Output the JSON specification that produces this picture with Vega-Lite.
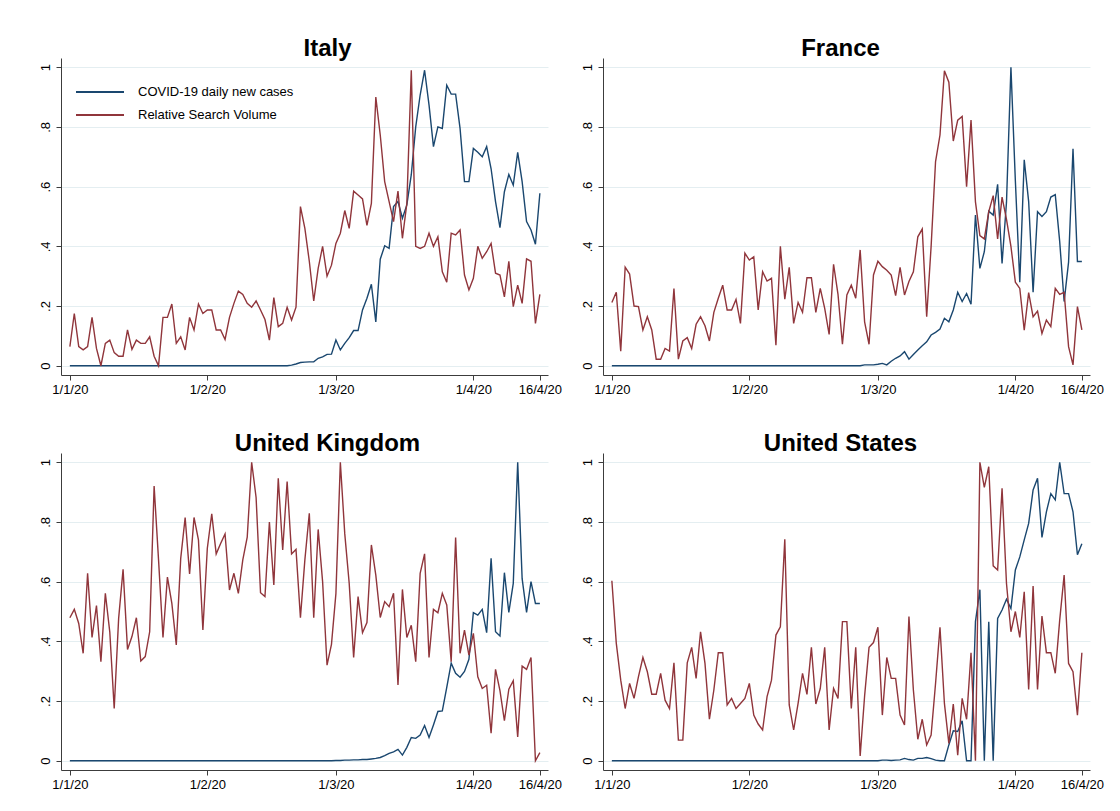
{
"$schema": "https://vega.github.io/schema/vega-lite/v6.json",
"background": "white",
"padding": {"left": 39, "top": 37, "right": 5, "bottom": 5},
"datasets": {
"Italy": [
{"date":"2020-01-01","cases":0,"rsv":0.064},{"date":"2020-01-02","cases":0,"rsv":0.175},{"date":"2020-01-03","cases":0,"rsv":0.064},{"date":"2020-01-04","cases":0,"rsv":0.053},{"date":"2020-01-05","cases":0,"rsv":0.064},{"date":"2020-01-06","cases":0,"rsv":0.162},{"date":"2020-01-07","cases":0,"rsv":0.058},{"date":"2020-01-08","cases":0,"rsv":0},{"date":"2020-01-09","cases":0,"rsv":0.075},{"date":"2020-01-10","cases":0,"rsv":0.086},
{"date":"2020-01-11","cases":0,"rsv":0.044},{"date":"2020-01-12","cases":0,"rsv":0.032},{"date":"2020-01-13","cases":0,"rsv":0.032},{"date":"2020-01-14","cases":0,"rsv":0.12},{"date":"2020-01-15","cases":0,"rsv":0.055},{"date":"2020-01-16","cases":0,"rsv":0.086},{"date":"2020-01-17","cases":0,"rsv":0.075},{"date":"2020-01-18","cases":0,"rsv":0.075},{"date":"2020-01-19","cases":0,"rsv":0.097},{"date":"2020-01-20","cases":0,"rsv":0.032},
{"date":"2020-01-21","cases":0,"rsv":0},{"date":"2020-01-22","cases":0,"rsv":0.162},{"date":"2020-01-23","cases":0,"rsv":0.162},{"date":"2020-01-24","cases":0,"rsv":0.207},{"date":"2020-01-25","cases":0,"rsv":0.075},{"date":"2020-01-26","cases":0,"rsv":0.097},{"date":"2020-01-27","cases":0,"rsv":0.053},{"date":"2020-01-28","cases":0,"rsv":0.162},{"date":"2020-01-29","cases":0,"rsv":0.12},{"date":"2020-01-30","cases":0,"rsv":0.207},
{"date":"2020-01-31","cases":0,"rsv":0.175},
{"date":"2020-02-01","cases":0,"rsv":0.187},{"date":"2020-02-02","cases":0,"rsv":0.187},{"date":"2020-02-03","cases":0,"rsv":0.12},{"date":"2020-02-04","cases":0,"rsv":0.12},{"date":"2020-02-05","cases":0,"rsv":0.088},{"date":"2020-02-06","cases":0,"rsv":0.162},{"date":"2020-02-07","cases":0,"rsv":0.209},{"date":"2020-02-08","cases":0,"rsv":0.25},{"date":"2020-02-09","cases":0,"rsv":0.239},{"date":"2020-02-10","cases":0,"rsv":0.209},
{"date":"2020-02-11","cases":0,"rsv":0.196},{"date":"2020-02-12","cases":0,"rsv":0.217},{"date":"2020-02-13","cases":0,"rsv":0.187},{"date":"2020-02-14","cases":0,"rsv":0.155},{"date":"2020-02-15","cases":0,"rsv":0.086},{"date":"2020-02-16","cases":0,"rsv":0.228},{"date":"2020-02-17","cases":0,"rsv":0.131},{"date":"2020-02-18","cases":0,"rsv":0.142},{"date":"2020-02-19","cases":0,"rsv":0.196},{"date":"2020-02-20","cases":0.002,"rsv":0.153},
{"date":"2020-02-21","cases":0.006,"rsv":0.196},{"date":"2020-02-22","cases":0.011,"rsv":0.533},{"date":"2020-02-23","cases":0.012,"rsv":0.46},{"date":"2020-02-24","cases":0.013,"rsv":0.35},{"date":"2020-02-25","cases":0.013,"rsv":0.217},{"date":"2020-02-26","cases":0.025,"rsv":0.326},{"date":"2020-02-27","cases":0.03,"rsv":0.4},{"date":"2020-02-28","cases":0.038,"rsv":0.3},{"date":"2020-02-29","cases":0.039,"rsv":0.337},
{"date":"2020-03-01","cases":0.086,"rsv":0.41},{"date":"2020-03-02","cases":0.053,"rsv":0.444},{"date":"2020-03-03","cases":0.075,"rsv":0.52},{"date":"2020-03-04","cases":0.094,"rsv":0.46},{"date":"2020-03-05","cases":0.118,"rsv":0.585},{"date":"2020-03-06","cases":0.118,"rsv":0.572},{"date":"2020-03-07","cases":0.187,"rsv":0.559},{"date":"2020-03-08","cases":0.226,"rsv":0.47},{"date":"2020-03-09","cases":0.273,"rsv":0.544},{"date":"2020-03-10","cases":0.147,"rsv":0.9},
{"date":"2020-03-11","cases":0.357,"rsv":0.773},{"date":"2020-03-12","cases":0.402,"rsv":0.617},{"date":"2020-03-13","cases":0.393,"rsv":0.55},{"date":"2020-03-14","cases":0.533,"rsv":0.483},{"date":"2020-03-15","cases":0.55,"rsv":0.585},{"date":"2020-03-16","cases":0.494,"rsv":0.427},{"date":"2020-03-17","cases":0.539,"rsv":0.544},{"date":"2020-03-18","cases":0.64,"rsv":0.99},{"date":"2020-03-19","cases":0.8,"rsv":0.4},{"date":"2020-03-20","cases":0.907,"rsv":0.393},
{"date":"2020-03-21","cases":0.99,"rsv":0.4},{"date":"2020-03-22","cases":0.874,"rsv":0.444},{"date":"2020-03-23","cases":0.734,"rsv":0.4},{"date":"2020-03-24","cases":0.8,"rsv":0.432},{"date":"2020-03-25","cases":0.795,"rsv":0.315},{"date":"2020-03-26","cases":0.94,"rsv":0.28},{"date":"2020-03-27","cases":0.91,"rsv":0.444},{"date":"2020-03-28","cases":0.91,"rsv":0.438},{"date":"2020-03-29","cases":0.795,"rsv":0.455},{"date":"2020-03-30","cases":0.617,"rsv":0.304},
{"date":"2020-03-31","cases":0.617,"rsv":0.254},
{"date":"2020-04-01","cases":0.728,"rsv":0.293},{"date":"2020-04-02","cases":0.715,"rsv":0.4},{"date":"2020-04-03","cases":0.7,"rsv":0.36},{"date":"2020-04-04","cases":0.734,"rsv":0.382},{"date":"2020-04-05","cases":0.66,"rsv":0.41},{"date":"2020-04-06","cases":0.55,"rsv":0.31},{"date":"2020-04-07","cases":0.463,"rsv":0.304},{"date":"2020-04-08","cases":0.583,"rsv":0.231},{"date":"2020-04-09","cases":0.641,"rsv":0.35},{"date":"2020-04-10","cases":0.605,"rsv":0.198},
{"date":"2020-04-11","cases":0.715,"rsv":0.27},{"date":"2020-04-12","cases":0.617,"rsv":0.209},{"date":"2020-04-13","cases":0.483,"rsv":0.358},{"date":"2020-04-14","cases":0.455,"rsv":0.35},{"date":"2020-04-15","cases":0.407,"rsv":0.142},{"date":"2020-04-16","cases":0.578,"rsv":0.239}
],
"France": [
{"date":"2020-01-01","cases":0,"rsv":0.212},{"date":"2020-01-02","cases":0,"rsv":0.246},{"date":"2020-01-03","cases":0,"rsv":0.049},{"date":"2020-01-04","cases":0,"rsv":0.33},{"date":"2020-01-05","cases":0,"rsv":0.307},{"date":"2020-01-06","cases":0,"rsv":0.2},{"date":"2020-01-07","cases":0,"rsv":0.198},{"date":"2020-01-08","cases":0,"rsv":0.12},{"date":"2020-01-09","cases":0,"rsv":0.164},{"date":"2020-01-10","cases":0,"rsv":0.12},
{"date":"2020-01-11","cases":0,"rsv":0.022},{"date":"2020-01-12","cases":0,"rsv":0.022},{"date":"2020-01-13","cases":0,"rsv":0.058},{"date":"2020-01-14","cases":0,"rsv":0.049},{"date":"2020-01-15","cases":0,"rsv":0.259},{"date":"2020-01-16","cases":0,"rsv":0.022},{"date":"2020-01-17","cases":0,"rsv":0.083},{"date":"2020-01-18","cases":0,"rsv":0.094},{"date":"2020-01-19","cases":0,"rsv":0.058},{"date":"2020-01-20","cases":0,"rsv":0.139},
{"date":"2020-01-21","cases":0,"rsv":0.164},{"date":"2020-01-22","cases":0,"rsv":0.134},{"date":"2020-01-23","cases":0,"rsv":0.083},{"date":"2020-01-24","cases":0,"rsv":0.179},{"date":"2020-01-25","cases":0,"rsv":0.226},{"date":"2020-01-26","cases":0,"rsv":0.27},{"date":"2020-01-27","cases":0,"rsv":0.187},{"date":"2020-01-28","cases":0,"rsv":0.187},{"date":"2020-01-29","cases":0,"rsv":0.222},{"date":"2020-01-30","cases":0,"rsv":0.142},
{"date":"2020-01-31","cases":0,"rsv":0.377},
{"date":"2020-02-01","cases":0,"rsv":0.354},{"date":"2020-02-02","cases":0,"rsv":0.365},{"date":"2020-02-03","cases":0,"rsv":0.187},{"date":"2020-02-04","cases":0,"rsv":0.315},{"date":"2020-02-05","cases":0,"rsv":0.284},{"date":"2020-02-06","cases":0,"rsv":0.293},{"date":"2020-02-07","cases":0,"rsv":0.069},{"date":"2020-02-08","cases":0,"rsv":0.4},{"date":"2020-02-09","cases":0,"rsv":0.223},{"date":"2020-02-10","cases":0,"rsv":0.33},
{"date":"2020-02-11","cases":0,"rsv":0.142},{"date":"2020-02-12","cases":0,"rsv":0.212},{"date":"2020-02-13","cases":0,"rsv":0.179},{"date":"2020-02-14","cases":0,"rsv":0.295},{"date":"2020-02-15","cases":0,"rsv":0.295},{"date":"2020-02-16","cases":0,"rsv":0.179},{"date":"2020-02-17","cases":0,"rsv":0.259},{"date":"2020-02-18","cases":0,"rsv":0.192},{"date":"2020-02-19","cases":0,"rsv":0.105},{"date":"2020-02-20","cases":0,"rsv":0.34},
{"date":"2020-02-21","cases":0,"rsv":0.239},{"date":"2020-02-22","cases":0,"rsv":0.072},{"date":"2020-02-23","cases":0,"rsv":0.237},{"date":"2020-02-24","cases":0,"rsv":0.27},{"date":"2020-02-25","cases":0,"rsv":0.226},{"date":"2020-02-26","cases":0,"rsv":0.388},{"date":"2020-02-27","cases":0.003,"rsv":0.147},{"date":"2020-02-28","cases":0.003,"rsv":0.072},{"date":"2020-02-29","cases":0.003,"rsv":0.304},
{"date":"2020-03-01","cases":0.005,"rsv":0.35},{"date":"2020-03-02","cases":0.008,"rsv":0.332},{"date":"2020-03-03","cases":0.003,"rsv":0.32},{"date":"2020-03-04","cases":0.015,"rsv":0.304},{"date":"2020-03-05","cases":0.025,"rsv":0.235},{"date":"2020-03-06","cases":0.033,"rsv":0.33},{"date":"2020-03-07","cases":0.047,"rsv":0.237},{"date":"2020-03-08","cases":0.022,"rsv":0.282},{"date":"2020-03-09","cases":0.038,"rsv":0.315},{"date":"2020-03-10","cases":0.053,"rsv":0.432},
{"date":"2020-03-11","cases":0.067,"rsv":0.458},{"date":"2020-03-12","cases":0.08,"rsv":0.164},{"date":"2020-03-13","cases":0.103,"rsv":0.4},{"date":"2020-03-14","cases":0.112,"rsv":0.684},{"date":"2020-03-15","cases":0.123,"rsv":0.773},{"date":"2020-03-16","cases":0.159,"rsv":0.988},{"date":"2020-03-17","cases":0.147,"rsv":0.95},{"date":"2020-03-18","cases":0.187,"rsv":0.753},{"date":"2020-03-19","cases":0.246,"rsv":0.823},{"date":"2020-03-20","cases":0.215,"rsv":0.835},
{"date":"2020-03-21","cases":0.242,"rsv":0.6},{"date":"2020-03-22","cases":0.206,"rsv":0.823},{"date":"2020-03-23","cases":0.505,"rsv":0.549},{"date":"2020-03-24","cases":0.326,"rsv":0.436},{"date":"2020-03-25","cases":0.382,"rsv":0.425},{"date":"2020-03-26","cases":0.518,"rsv":0.516},{"date":"2020-03-27","cases":0.505,"rsv":0.57},{"date":"2020-03-28","cases":0.608,"rsv":0.425},{"date":"2020-03-29","cases":0.343,"rsv":0.565},{"date":"2020-03-30","cases":0.548,"rsv":0.49},
{"date":"2020-03-31","cases":1,"rsv":0.4},
{"date":"2020-04-01","cases":0.62,"rsv":0.28},{"date":"2020-04-02","cases":0.28,"rsv":0.259},{"date":"2020-04-03","cases":0.69,"rsv":0.119},{"date":"2020-04-04","cases":0.55,"rsv":0.245},{"date":"2020-04-05","cases":0.246,"rsv":0.164},{"date":"2020-04-06","cases":0.516,"rsv":0.183},{"date":"2020-04-07","cases":0.5,"rsv":0.108},{"date":"2020-04-08","cases":0.516,"rsv":0.153},{"date":"2020-04-09","cases":0.565,"rsv":0.131},{"date":"2020-04-10","cases":0.573,"rsv":0.259},
{"date":"2020-04-11","cases":0.416,"rsv":0.239},{"date":"2020-04-12","cases":0.215,"rsv":0.246},{"date":"2020-04-13","cases":0.347,"rsv":0.064},{"date":"2020-04-14","cases":0.727,"rsv":0.003},{"date":"2020-04-15","cases":0.349,"rsv":0.198},{"date":"2020-04-16","cases":0.349,"rsv":0.12}
],
"UK": [
{"date":"2020-01-01","cases":0,"rsv":0.479},{"date":"2020-01-02","cases":0,"rsv":0.507},{"date":"2020-01-03","cases":0,"rsv":0.46},{"date":"2020-01-04","cases":0,"rsv":0.36},{"date":"2020-01-05","cases":0,"rsv":0.628},{"date":"2020-01-06","cases":0,"rsv":0.413},{"date":"2020-01-07","cases":0,"rsv":0.52},{"date":"2020-01-08","cases":0,"rsv":0.332},{"date":"2020-01-09","cases":0,"rsv":0.561},{"date":"2020-01-10","cases":0,"rsv":0.432},
{"date":"2020-01-11","cases":0,"rsv":0.175},{"date":"2020-01-12","cases":0,"rsv":0.477},{"date":"2020-01-13","cases":0,"rsv":0.641},{"date":"2020-01-14","cases":0,"rsv":0.373},{"date":"2020-01-15","cases":0,"rsv":0.416},{"date":"2020-01-16","cases":0,"rsv":0.479},{"date":"2020-01-17","cases":0,"rsv":0.334},{"date":"2020-01-18","cases":0,"rsv":0.349},{"date":"2020-01-19","cases":0,"rsv":0.432},{"date":"2020-01-20","cases":0,"rsv":0.92},
{"date":"2020-01-21","cases":0,"rsv":0.673},{"date":"2020-01-22","cases":0,"rsv":0.413},{"date":"2020-01-23","cases":0,"rsv":0.615},{"date":"2020-01-24","cases":0,"rsv":0.527},{"date":"2020-01-25","cases":0,"rsv":0.388},{"date":"2020-01-26","cases":0,"rsv":0.678},{"date":"2020-01-27","cases":0,"rsv":0.815},{"date":"2020-01-28","cases":0,"rsv":0.626},{"date":"2020-01-29","cases":0,"rsv":0.815},{"date":"2020-01-30","cases":0,"rsv":0.74},
{"date":"2020-01-31","cases":0,"rsv":0.438},
{"date":"2020-02-01","cases":0,"rsv":0.712},{"date":"2020-02-02","cases":0,"rsv":0.827},{"date":"2020-02-03","cases":0,"rsv":0.693},{"date":"2020-02-04","cases":0,"rsv":0.728},{"date":"2020-02-05","cases":0,"rsv":0.76},{"date":"2020-02-06","cases":0,"rsv":0.572},{"date":"2020-02-07","cases":0,"rsv":0.628},{"date":"2020-02-08","cases":0,"rsv":0.561},{"date":"2020-02-09","cases":0,"rsv":0.673},{"date":"2020-02-10","cases":0,"rsv":0.749},
{"date":"2020-02-11","cases":0,"rsv":1},{"date":"2020-02-12","cases":0,"rsv":0.882},{"date":"2020-02-13","cases":0,"rsv":0.563},{"date":"2020-02-14","cases":0,"rsv":0.55},{"date":"2020-02-15","cases":0,"rsv":0.8},{"date":"2020-02-16","cases":0,"rsv":0.589},{"date":"2020-02-17","cases":0,"rsv":0.946},{"date":"2020-02-18","cases":0,"rsv":0.706},{"date":"2020-02-19","cases":0,"rsv":0.935},{"date":"2020-02-20","cases":0,"rsv":0.693},
{"date":"2020-02-21","cases":0,"rsv":0.708},{"date":"2020-02-22","cases":0,"rsv":0.479},{"date":"2020-02-23","cases":0,"rsv":0.673},{"date":"2020-02-24","cases":0,"rsv":0.829},{"date":"2020-02-25","cases":0,"rsv":0.479},{"date":"2020-02-26","cases":0,"rsv":0.775},{"date":"2020-02-27","cases":0,"rsv":0.6},{"date":"2020-02-28","cases":0,"rsv":0.32},{"date":"2020-02-29","cases":0,"rsv":0.39},
{"date":"2020-03-01","cases":0.001,"rsv":0.56},{"date":"2020-03-02","cases":0.001,"rsv":1},{"date":"2020-03-03","cases":0.002,"rsv":0.76},{"date":"2020-03-04","cases":0.002,"rsv":0.594},{"date":"2020-03-05","cases":0.003,"rsv":0.346},{"date":"2020-03-06","cases":0.003,"rsv":0.55},{"date":"2020-03-07","cases":0.004,"rsv":0.429},{"date":"2020-03-08","cases":0.004,"rsv":0.463},{"date":"2020-03-09","cases":0.006,"rsv":0.723},{"date":"2020-03-10","cases":0.008,"rsv":0.622},
{"date":"2020-03-11","cases":0.011,"rsv":0.48},{"date":"2020-03-12","cases":0.017,"rsv":0.533},{"date":"2020-03-13","cases":0.025,"rsv":0.516},{"date":"2020-03-14","cases":0.03,"rsv":0.561},{"date":"2020-03-15","cases":0.038,"rsv":0.254},{"date":"2020-03-16","cases":0.019,"rsv":0.574},{"date":"2020-03-17","cases":0.045,"rsv":0.413},{"date":"2020-03-18","cases":0.078,"rsv":0.454},{"date":"2020-03-19","cases":0.075,"rsv":0.332},{"date":"2020-03-20","cases":0.086,"rsv":0.628},
{"date":"2020-03-21","cases":0.118,"rsv":0.693},{"date":"2020-03-22","cases":0.078,"rsv":0.346},{"date":"2020-03-23","cases":0.12,"rsv":0.507},{"date":"2020-03-24","cases":0.165,"rsv":0.496},{"date":"2020-03-25","cases":0.167,"rsv":0.561},{"date":"2020-03-26","cases":0.246,"rsv":0.522},{"date":"2020-03-27","cases":0.327,"rsv":0.332},{"date":"2020-03-28","cases":0.293,"rsv":0.748},{"date":"2020-03-29","cases":0.28,"rsv":0.36},{"date":"2020-03-30","cases":0.299,"rsv":0.438},
{"date":"2020-03-31","cases":0.34,"rsv":0.354},
{"date":"2020-04-01","cases":0.496,"rsv":0.427},{"date":"2020-04-02","cases":0.488,"rsv":0.281},{"date":"2020-04-03","cases":0.507,"rsv":0.242},{"date":"2020-04-04","cases":0.429,"rsv":0.253},{"date":"2020-04-05","cases":0.678,"rsv":0.092},{"date":"2020-04-06","cases":0.432,"rsv":0.306},{"date":"2020-04-07","cases":0.418,"rsv":0.235},{"date":"2020-04-08","cases":0.63,"rsv":0.134},{"date":"2020-04-09","cases":0.497,"rsv":0.24},{"date":"2020-04-10","cases":0.594,"rsv":0.268},
{"date":"2020-04-11","cases":1,"rsv":0.08},{"date":"2020-04-12","cases":0.61,"rsv":0.317},{"date":"2020-04-13","cases":0.497,"rsv":0.306},{"date":"2020-04-14","cases":0.6,"rsv":0.346},{"date":"2020-04-15","cases":0.527,"rsv":0},{"date":"2020-04-16","cases":0.527,"rsv":0.027}
],
"US": [
{"date":"2020-01-01","cases":0,"rsv":0.603},{"date":"2020-01-02","cases":0,"rsv":0.393},{"date":"2020-01-03","cases":0,"rsv":0.27},{"date":"2020-01-04","cases":0,"rsv":0.175},{"date":"2020-01-05","cases":0,"rsv":0.259},{"date":"2020-01-06","cases":0,"rsv":0.209},{"date":"2020-01-07","cases":0,"rsv":0.282},{"date":"2020-01-08","cases":0,"rsv":0.346},{"date":"2020-01-09","cases":0,"rsv":0.298},{"date":"2020-01-10","cases":0,"rsv":0.223},
{"date":"2020-01-11","cases":0,"rsv":0.223},{"date":"2020-01-12","cases":0,"rsv":0.293},{"date":"2020-01-13","cases":0,"rsv":0.203},{"date":"2020-01-14","cases":0,"rsv":0.175},{"date":"2020-01-15","cases":0,"rsv":0.328},{"date":"2020-01-16","cases":0,"rsv":0.069},{"date":"2020-01-17","cases":0,"rsv":0.069},{"date":"2020-01-18","cases":0,"rsv":0.328},{"date":"2020-01-19","cases":0,"rsv":0.38},{"date":"2020-01-20","cases":0,"rsv":0.276},
{"date":"2020-01-21","cases":0,"rsv":0.432},{"date":"2020-01-22","cases":0,"rsv":0.326},{"date":"2020-01-23","cases":0,"rsv":0.139},{"date":"2020-01-24","cases":0,"rsv":0.237},{"date":"2020-01-25","cases":0,"rsv":0.362},{"date":"2020-01-26","cases":0,"rsv":0.362},{"date":"2020-01-27","cases":0,"rsv":0.187},{"date":"2020-01-28","cases":0,"rsv":0.209},{"date":"2020-01-29","cases":0,"rsv":0.175},{"date":"2020-01-30","cases":0,"rsv":0.192},
{"date":"2020-01-31","cases":0,"rsv":0.209},
{"date":"2020-02-01","cases":0,"rsv":0.259},{"date":"2020-02-02","cases":0,"rsv":0.153},{"date":"2020-02-03","cases":0,"rsv":0.123},{"date":"2020-02-04","cases":0,"rsv":0.103},{"date":"2020-02-05","cases":0,"rsv":0.215},{"date":"2020-02-06","cases":0,"rsv":0.27},{"date":"2020-02-07","cases":0,"rsv":0.421},{"date":"2020-02-08","cases":0,"rsv":0.449},{"date":"2020-02-09","cases":0,"rsv":0.742},{"date":"2020-02-10","cases":0,"rsv":0.187},
{"date":"2020-02-11","cases":0,"rsv":0.103},{"date":"2020-02-12","cases":0,"rsv":0.192},{"date":"2020-02-13","cases":0,"rsv":0.293},{"date":"2020-02-14","cases":0,"rsv":0.222},{"date":"2020-02-15","cases":0,"rsv":0.38},{"date":"2020-02-16","cases":0,"rsv":0.19},{"date":"2020-02-17","cases":0,"rsv":0.242},{"date":"2020-02-18","cases":0,"rsv":0.38},{"date":"2020-02-19","cases":0,"rsv":0.103},{"date":"2020-02-20","cases":0,"rsv":0.242},
{"date":"2020-02-21","cases":0,"rsv":0.209},{"date":"2020-02-22","cases":0,"rsv":0.466},{"date":"2020-02-23","cases":0,"rsv":0.466},{"date":"2020-02-24","cases":0,"rsv":0.175},{"date":"2020-02-25","cases":0,"rsv":0.38},{"date":"2020-02-26","cases":0,"rsv":0.016},{"date":"2020-02-27","cases":0,"rsv":0.217},{"date":"2020-02-28","cases":0,"rsv":0.38},{"date":"2020-02-29","cases":0,"rsv":0.396},
{"date":"2020-03-01","cases":0,"rsv":0.447},{"date":"2020-03-02","cases":0.002,"rsv":0.153},{"date":"2020-03-03","cases":0.002,"rsv":0.346},{"date":"2020-03-04","cases":0.001,"rsv":0.276},{"date":"2020-03-05","cases":0.002,"rsv":0.276},{"date":"2020-03-06","cases":0.003,"rsv":0.153},{"date":"2020-03-07","cases":0.008,"rsv":0.12},{"date":"2020-03-08","cases":0.004,"rsv":0.483},{"date":"2020-03-09","cases":0.002,"rsv":0.237},{"date":"2020-03-10","cases":0.008,"rsv":0.072},
{"date":"2020-03-11","cases":0.008,"rsv":0.139},{"date":"2020-03-12","cases":0.011,"rsv":0.053},{"date":"2020-03-13","cases":0.007,"rsv":0.086},{"date":"2020-03-14","cases":0.002,"rsv":0.259},{"date":"2020-03-15","cases":0,"rsv":0.447},{"date":"2020-03-16","cases":0,"rsv":0.192},{"date":"2020-03-17","cases":0.053,"rsv":0.058},{"date":"2020-03-18","cases":0.1,"rsv":0.19},{"date":"2020-03-19","cases":0.098,"rsv":0.019},{"date":"2020-03-20","cases":0.134,"rsv":0.209},
{"date":"2020-03-21","cases":0,"rsv":0.139},{"date":"2020-03-22","cases":0,"rsv":0.362},{"date":"2020-03-23","cases":0.466,"rsv":0},{"date":"2020-03-24","cases":0.573,"rsv":1},{"date":"2020-03-25","cases":0,"rsv":0.916},{"date":"2020-03-26","cases":0.466,"rsv":0.985},{"date":"2020-03-27","cases":0,"rsv":0.653},{"date":"2020-03-28","cases":0.477,"rsv":0.639},{"date":"2020-03-29","cases":0.505,"rsv":0.913},{"date":"2020-03-30","cases":0.541,"rsv":0.594},
{"date":"2020-03-31","cases":0.51,"rsv":0.432},
{"date":"2020-04-01","cases":0.639,"rsv":0.5},{"date":"2020-04-02","cases":0.683,"rsv":0.413},{"date":"2020-04-03","cases":0.74,"rsv":0.566},{"date":"2020-04-04","cases":0.795,"rsv":0.239},{"date":"2020-04-05","cases":0.907,"rsv":0.585},{"date":"2020-04-06","cases":0.946,"rsv":0.239},{"date":"2020-04-07","cases":0.748,"rsv":0.485},{"date":"2020-04-08","cases":0.834,"rsv":0.362},{"date":"2020-04-09","cases":0.895,"rsv":0.362},{"date":"2020-04-10","cases":0.874,"rsv":0.293},
{"date":"2020-04-11","cases":1,"rsv":0.471},{"date":"2020-04-12","cases":0.895,"rsv":0.622},{"date":"2020-04-13","cases":0.895,"rsv":0.326},{"date":"2020-04-14","cases":0.834,"rsv":0.298},{"date":"2020-04-15","cases":0.69,"rsv":0.153},{"date":"2020-04-16","cases":0.727,"rsv":0.362}
]
},
"columns": 2,
"spacing": {"row": 78, "column": 55},
"bounds": "flush",
"concat": [
{"data": {"name": "Italy"}, "title": {"text": "Italy", "dx": 23}, "width": 487, "height": 317,
 "transform": [{"fold": ["cases", "rsv"], "as": ["series", "value"]}],
 "mark": {"type": "line", "strokeWidth": 1.4},
 "encoding": {
  "x": {"field": "date", "type": "temporal", "title": null, "scale": {"type": "utc", "nice": false, "domain": [{"year": 2019, "month": 12, "date": 30, "utc": true}, {"year": 2020, "month": 4, "date": 17, "hours": 20, "utc": true}]}, "axis": {"labelExpr": "utcFormat(datum.value, '%-d/%-m/%y')", "values": [{"year": 2020, "month": 1, "date": 1, "utc": true}, {"year": 2020, "month": 2, "date": 1, "utc": true}, {"year": 2020, "month": 3, "date": 1, "utc": true}, {"year": 2020, "month": 4, "date": 1, "utc": true}, {"year": 2020, "month": 4, "date": 16, "utc": true}]}},
  "y": {"field": "value", "type": "quantitative", "title": null, "scale": {"domain": [-0.031, 1.031], "nice": false, "zero": false}, "axis": {"values": [0, 0.2, 0.4, 0.6, 0.8, 1], "labelExpr": "datum.value == 0 ? '0' : datum.value == 1 ? '1' : slice(format(datum.value, '.1f'), 1)"}},
  "color": {"field": "series", "type": "nominal", "scale": {"domain": ["cases", "rsv"], "range": ["#1a476f", "#90353b"]}, "legend": {"title": null, "labelExpr": "datum.value == 'cases' ? 'COVID-19 daily new cases' : 'Relative Search Volume'"}}
 }},
{"data": {"name": "France"}, "title": {"text": "France", "dx": -6}, "width": 487, "height": 317,
 "transform": [{"fold": ["cases", "rsv"], "as": ["series", "value"]}],
 "mark": {"type": "line", "strokeWidth": 1.4},
 "encoding": {
  "x": {"field": "date", "type": "temporal", "title": null, "scale": {"type": "utc", "nice": false, "domain": [{"year": 2019, "month": 12, "date": 30, "utc": true}, {"year": 2020, "month": 4, "date": 17, "hours": 20, "utc": true}]}, "axis": {"labelExpr": "utcFormat(datum.value, '%-d/%-m/%y')", "values": [{"year": 2020, "month": 1, "date": 1, "utc": true}, {"year": 2020, "month": 2, "date": 1, "utc": true}, {"year": 2020, "month": 3, "date": 1, "utc": true}, {"year": 2020, "month": 4, "date": 1, "utc": true}, {"year": 2020, "month": 4, "date": 16, "utc": true}]}},
  "y": {"field": "value", "type": "quantitative", "title": null, "scale": {"domain": [-0.031, 1.031], "nice": false, "zero": false}, "axis": {"values": [0, 0.2, 0.4, 0.6, 0.8, 1], "labelExpr": "datum.value == 0 ? '0' : datum.value == 1 ? '1' : slice(format(datum.value, '.1f'), 1)"}},
  "color": {"field": "series", "type": "nominal", "scale": {"domain": ["cases", "rsv"], "range": ["#1a476f", "#90353b"]}, "legend": {"title": null, "labelExpr": "datum.value == 'cases' ? 'COVID-19 daily new cases' : 'Relative Search Volume'"}}
 }},
{"data": {"name": "UK"}, "title": {"text": "United Kingdom", "dx": 23}, "width": 487, "height": 317,
 "transform": [{"fold": ["cases", "rsv"], "as": ["series", "value"]}],
 "mark": {"type": "line", "strokeWidth": 1.4},
 "encoding": {
  "x": {"field": "date", "type": "temporal", "title": null, "scale": {"type": "utc", "nice": false, "domain": [{"year": 2019, "month": 12, "date": 30, "utc": true}, {"year": 2020, "month": 4, "date": 17, "hours": 20, "utc": true}]}, "axis": {"labelExpr": "utcFormat(datum.value, '%-d/%-m/%y')", "values": [{"year": 2020, "month": 1, "date": 1, "utc": true}, {"year": 2020, "month": 2, "date": 1, "utc": true}, {"year": 2020, "month": 3, "date": 1, "utc": true}, {"year": 2020, "month": 4, "date": 1, "utc": true}, {"year": 2020, "month": 4, "date": 16, "utc": true}]}},
  "y": {"field": "value", "type": "quantitative", "title": null, "scale": {"domain": [-0.031, 1.031], "nice": false, "zero": false}, "axis": {"values": [0, 0.2, 0.4, 0.6, 0.8, 1], "labelExpr": "datum.value == 0 ? '0' : datum.value == 1 ? '1' : slice(format(datum.value, '.1f'), 1)"}},
  "color": {"field": "series", "type": "nominal", "scale": {"domain": ["cases", "rsv"], "range": ["#1a476f", "#90353b"]}, "legend": {"title": null, "labelExpr": "datum.value == 'cases' ? 'COVID-19 daily new cases' : 'Relative Search Volume'"}}
 }},
{"data": {"name": "US"}, "title": {"text": "United States", "dx": -6}, "width": 487, "height": 317,
 "transform": [{"fold": ["cases", "rsv"], "as": ["series", "value"]}],
 "mark": {"type": "line", "strokeWidth": 1.4},
 "encoding": {
  "x": {"field": "date", "type": "temporal", "title": null, "scale": {"type": "utc", "nice": false, "domain": [{"year": 2019, "month": 12, "date": 30, "utc": true}, {"year": 2020, "month": 4, "date": 17, "hours": 20, "utc": true}]}, "axis": {"labelExpr": "utcFormat(datum.value, '%-d/%-m/%y')", "values": [{"year": 2020, "month": 1, "date": 1, "utc": true}, {"year": 2020, "month": 2, "date": 1, "utc": true}, {"year": 2020, "month": 3, "date": 1, "utc": true}, {"year": 2020, "month": 4, "date": 1, "utc": true}, {"year": 2020, "month": 4, "date": 16, "utc": true}]}},
  "y": {"field": "value", "type": "quantitative", "title": null, "scale": {"domain": [-0.031, 1.031], "nice": false, "zero": false}, "axis": {"values": [0, 0.2, 0.4, 0.6, 0.8, 1], "labelExpr": "datum.value == 0 ? '0' : datum.value == 1 ? '1' : slice(format(datum.value, '.1f'), 1)"}},
  "color": {"field": "series", "type": "nominal", "scale": {"domain": ["cases", "rsv"], "range": ["#1a476f", "#90353b"]}, "legend": {"title": null, "labelExpr": "datum.value == 'cases' ? 'COVID-19 daily new cases' : 'Relative Search Volume'"}}
 }}
],
"config": {
 "view": {"stroke": null},
 "font": "Liberation Sans",
 "axis": {"domainColor": "#3c3c3c", "tickColor": "#3c3c3c", "labelColor": "#000000", "labelFont": "Liberation Sans", "labelFontSize": 13, "tickSize": 5, "domainWidth": 1, "tickWidth": 1},
 "axisX": {"grid": false, "labelPadding": 3, "labelFlush": false, "labelOverlap": false, "labelAngle": 0},
 "axisY": {"grid": true, "gridColor": "#e4eef1", "gridWidth": 1, "labelAngle": 270, "labelAlign": "center", "labelBaseline": "bottom", "labelPadding": 4},
 "title": {"fontSize": 24, "fontWeight": "bold", "font": "Liberation Sans", "color": "#000000", "anchor": "middle", "offset": -3, "baseline": "alphabetic"},
 "legend": {"orient": "none", "legendX": 26, "legendY": 21, "padding": 0, "symbolType": "M-2,0H2", "symbolSize": 576, "symbolStrokeWidth": 2, "labelFontSize": 13, "labelFont": "Liberation Sans", "labelColor": "#000000", "labelOffset": 25, "rowPadding": 3}
}
}
